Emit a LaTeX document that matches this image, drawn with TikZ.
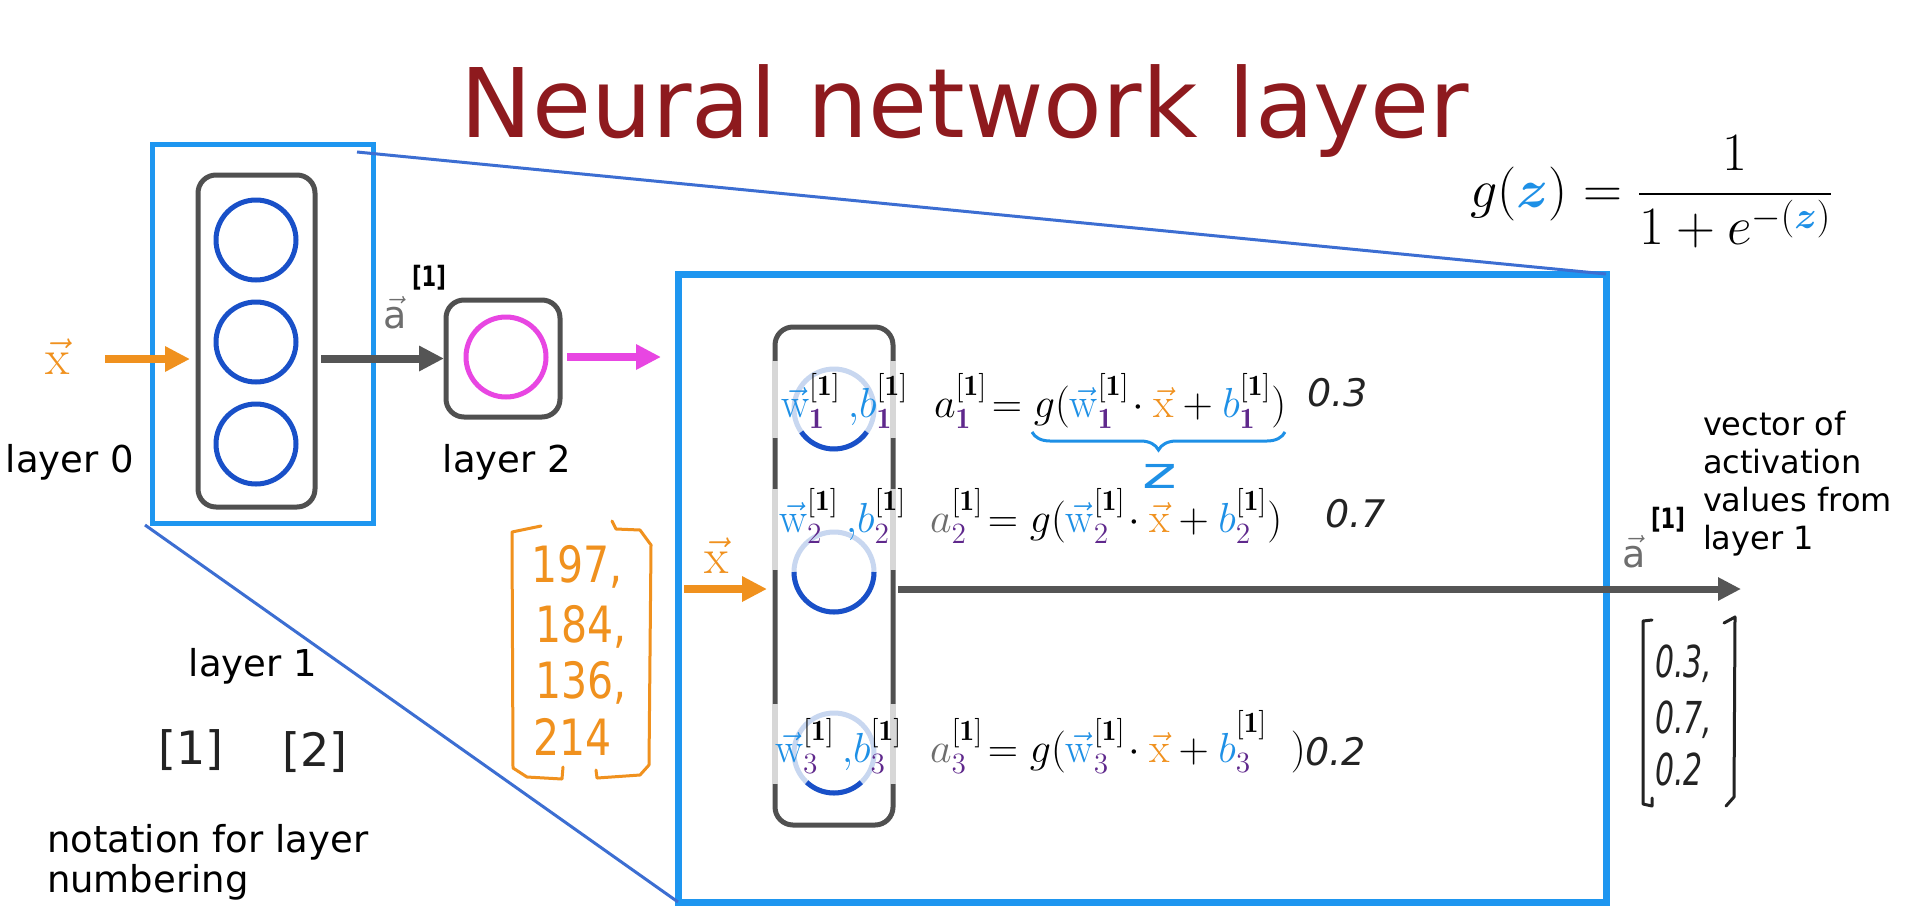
\RequirePackage{fix-cm}
\documentclass[tikz,border=0pt]{standalone}
\usepackage{amsmath}
\usepackage{fontspec}
\usepackage{graphicx}
\usetikzlibrary{arrows.meta,decorations.pathreplacing,calc}
\newfontfamily\dv{DejaVu Sans}
\definecolor{titlered}{RGB}{142,26,30}
\definecolor{azure}{RGB}{30,150,240}
\definecolor{zoomblue}{RGB}{60,110,210}
\definecolor{nblue}{RGB}{25,80,200}
\definecolor{lightc}{RGB}{200,215,240}
\definecolor{dgray}{RGB}{85,85,85}
\definecolor{boxgray}{RGB}{80,80,80}
\definecolor{lgray}{RGB}{215,215,215}
\definecolor{orng}{RGB}{240,145,30}
\definecolor{mag}{RGB}{232,70,226}
\definecolor{purp}{RGB}{95,40,140}
\definecolor{wblue}{RGB}{30,144,230}
\definecolor{agray}{RGB}{110,110,110}
\definecolor{ink}{RGB}{35,35,35}
\newcommand{\Lone}{\mathbf{[1]}}
\newcommand{\WW}[1]{{\color{wblue}\vec{\mathrm{w}}}^{\Lone}_{\color{purp}#1}}
\newcommand{\BB}[1]{{\color{wblue}b}^{\Lone}_{\color{purp}#1}}
\newcommand{\XX}{{\color{orng}\vec{\mathrm{x}}}}
\newcommand{\AV}{\vec{\mbox{a}}}
\begin{document}
\begin{tikzpicture}[x=0.5pt,y=-0.5pt,
  every node/.style={inner sep=0pt,outer sep=0pt},
  bigbox/.style={draw=azure,line width=3.5pt},
  smallbox/.style={draw=azure,line width=2.5pt},
  graycol/.style={draw=boxgray,line width=2.5pt,rounded corners=9pt},
  ncirc/.style={circle,draw=nblue,line width=2.5pt,minimum size=40pt},
  mcirc/.style={circle,draw=mag,line width=2.5pt,minimum size=40pt},
  lring/.style={draw=lightc,line width=2.5pt},
  darc/.style={draw=nblue,line width=2.5pt},
  thickarrow/.style={line width=4pt,-{Triangle[length=12.5pt,width=12pt]}},
  outarrow/.style={line width=3.5pt,-{Triangle[length=11.5pt,width=11pt]}},
  zoomline/.style={draw=zoomblue,line width=1.5pt},
  lbl/.style={font=\dv\fontsize{18.5}{20}\selectfont},
  eqn/.style={font=\fontsize{21}{25}\selectfont,anchor=base west},
  handnum/.style={font=\dv\itshape\fontsize{19}{22}\selectfont,anchor=base west,text=ink},
  vecnum/.style={font=\dv\itshape\fontsize{22}{26}\selectfont,anchor=base west,text=ink},
  onum/.style={font=\dv\fontsize{25}{28}\selectfont,anchor=base west,text=orng},
  hbrack/.style={line width=1.5pt,line join=round,line cap=round}]
\fill[white] (0,0) rectangle (1920,916);
\useasboundingbox (0,0) rectangle (1920,916);

% title
\node[font=\dv\fontsize{48}{56}\selectfont,text=titlered,anchor=base] (title) at (965,137) {Neural network layer};

% boxes and zoom lines
\node[bigbox,minimum width=464pt,minimum height=314pt] (big) at (1142,588) {};
\node[smallbox,minimum width=110.5pt,minimum height=189.5pt] (small) at (262.5,333.5) {};
\coordinate (zt) at (357,152);
\coordinate (zb) at (145,525);
\draw[zoomline] (zt) -- (big.north east);
\draw[zoomline] (zb) -- (big.south west);

% left small network
\node[graycol,minimum width=58.5pt,minimum height=166pt] (colL) at (256.5,341) {};
\node[ncirc] (n1) at (256,240) {};
\node[ncirc] (n2) at (256,342) {};
\node[ncirc] (n3) at (256,444) {};
\node[graycol,minimum width=57pt,minimum height=58.5pt] (l2) at (503,358.5) {};
\node[mcirc] (m1) at (506,357) {};

\node[font=\fontsize{25}{28}\selectfont,text=orng,anchor=base] (x0) at (58,374) {$\vec{\mathrm{x}}$};
\coordinate (xin) at (105,359);
\draw[thickarrow,orng,shorten >=4pt] (xin) -- (colL.west |- xin);
\draw[thickarrow,dgray,shorten <=3pt,shorten >=1pt] (colL.east |- l2.west) -- (l2.west);
\coordinate (mout) at (661,357);
\draw[thickarrow,mag,shorten <=3.5pt] (l2.east |- mout) -- (mout);

\node[font=\dv\fontsize{19}{23}\selectfont,text=agray,anchor=base west] (aL) at (383,328) {$\AV$};
\node[font=\dv\bfseries\fontsize{14}{16}\selectfont] (aL1) at (429,278) {\scalebox{0.75}[1]{[1]}};

\node[lbl,anchor=base] (lay0) at (70,472) {layer 0};
\node[lbl,anchor=base] (lay2) at (507,472) {layer 2};
\node[lbl,anchor=base] (lay1) at (253,676) {layer 1};
\node[font=\dv\fontsize{23}{28}\selectfont,anchor=base,text=ink] (br1) at (191,764) {[1]};
\node[font=\dv\fontsize{23}{28}\selectfont,anchor=base,text=ink] (br2) at (315,766) {[2]};
\node[lbl,anchor=north west,align=left] (note) at (47,824) {notation for layer\\numbering};

% orange input vector
\draw[orng,hbrack] (541,526) -- (512,532) -- (513,768) -- (527,777) -- (562,779) -- (563,767);
\draw[orng,hbrack] (612,521) -- (616,529) -- (640,530) -- (651,545) -- (649,765) -- (640,775) -- (597,778) -- (596,770);
\node[onum] (o1) at (531,582) {\scalebox{0.82}[1]{197,}};
\node[onum] (o2) at (535,642) {\scalebox{0.82}[1]{184,}};
\node[onum] (o3) at (535,698) {\scalebox{0.82}[1]{136,}};
\node[onum] (o4) at (533,755) {\scalebox{0.82}[1]{214}};

% inner layer
\node[graycol,minimum width=59pt,minimum height=249pt] (colR) at (834,576) {};
\foreach \ya/\yb in {361/438,489/570,704/784}{
  \draw[lgray,line width=2.7pt] (775,\ya) -- (775,\yb);
  \draw[lgray,line width=2.7pt] (893,\ya) -- (893,\yb);
}
\coordinate (c1) at (834,409);
\coordinate (c2) at (834,572);
\coordinate (c3) at (834,753);
\foreach \c in {c1,c2,c3}{\draw[lring] (\c) circle[radius=40];}
\draw[darc] ($(c1)+(35:40)$) arc[start angle=35,end angle=145,radius=40];
\draw[darc] ($(c2)+(0:40)$) arc[start angle=0,end angle=180,radius=40];
\draw[darc] ($(c3)+(47:40)$) arc[start angle=47,end angle=133,radius=40];

\node[eqn] (p1) at (781,417) {$\WW{\mathbf{1}}\,{\color{wblue},}\BB{\mathbf{1}}$};
\node[eqn] (e1) at (934,417) {$a^{\Lone}_{\color{purp}\mathbf{1}}\!= g(\WW{\mathbf{1}}\!\cdot\XX+\BB{\mathbf{1}})$};
\node[handnum] (v1) at (1307,406) {0.3};

\node[eqn] (p2) at (779,532) {$\WW{2}\,{\color{wblue},}\BB{2}$};
\node[eqn] (e2) at (930,532) {${\color{agray}a}^{\Lone}_{\color{purp}2}\!= g(\WW{2}\!\cdot\XX+\BB{2})$};
\node[handnum] (v2) at (1325,527) {0.7};

\node[eqn] (p3) at (775,762) {$\WW{3}\,{\color{wblue},}\BB{3}$};
\node[eqn] (e3) at (930,762) {${\color{agray}a}^{\Lone}_{\color{purp}3}\!= g(\WW{3}\!\cdot\XX+{\color{wblue}b}^{\raisebox{7pt}{$\scriptstyle\Lone$}}_{\color{purp}3}\;\;)$};
\node[handnum] (v3) at (1305,765) {0.2};

\coordinate (zs) at (1032,432);
\coordinate (ze) at (1285,432);
\draw[wblue,line width=1.5pt,decorate,decoration={brace,mirror,amplitude=9pt}] (zs) -- (ze);
\node[font=\dv\fontsize{22}{26}\selectfont,text=wblue] (zl) at (1160,476) {\scalebox{1.5}[1]{z}};

\coordinate (xr) at (684,589);
\draw[thickarrow,orng,shorten >=4pt] (xr) -- (colR.west |- xr);
\node[font=\fontsize{25}{28}\selectfont,text=orng,anchor=base] (x1) at (717,573) {$\vec{\mathrm{x}}$};
\coordinate (aout) at (1741,589);
\draw[outarrow,dgray,shorten <=2.5pt] (colR.east |- xr) -- (aout);

% output
\node[font=\dv\fontsize{19}{23}\selectfont,text=agray,anchor=base west] (aR) at (1622,567) {$\AV$};
\node[font=\dv\bfseries\fontsize{14}{16}\selectfont] (aR1) at (1668,520) {\scalebox{0.75}[1]{[1]}};
\node[font=\dv\fontsize{16}{19}\selectfont,anchor=north west,align=left] (vecl) at (1703,411) {vector of\\activation\\values from\\layer 1};

\draw[ink,hbrack] (1652,620) -- (1643,621) -- (1643,804) -- (1652,806) -- (1652,798);
\draw[ink,hbrack] (1724,623) -- (1735,617) -- (1734,797) -- (1726,806);
\node[vecnum] (y1) at (1655,677) {\scalebox{0.68}[1]{0.3,}};
\node[vecnum] (y2) at (1655,733) {\scalebox{0.68}[1]{0.7,}};
\node[vecnum] (y3) at (1655,785) {\scalebox{0.68}[1]{0.2}};

% g(z)
\node[font=\fontsize{27}{32}\selectfont,anchor=base] (gz) at (1652,207) {$\displaystyle g({\color{wblue}\boldsymbol{z}}) = \frac{1}{1+e^{-({\color{wblue}\boldsymbol{z}})}}$};
\end{tikzpicture}
\end{document}
